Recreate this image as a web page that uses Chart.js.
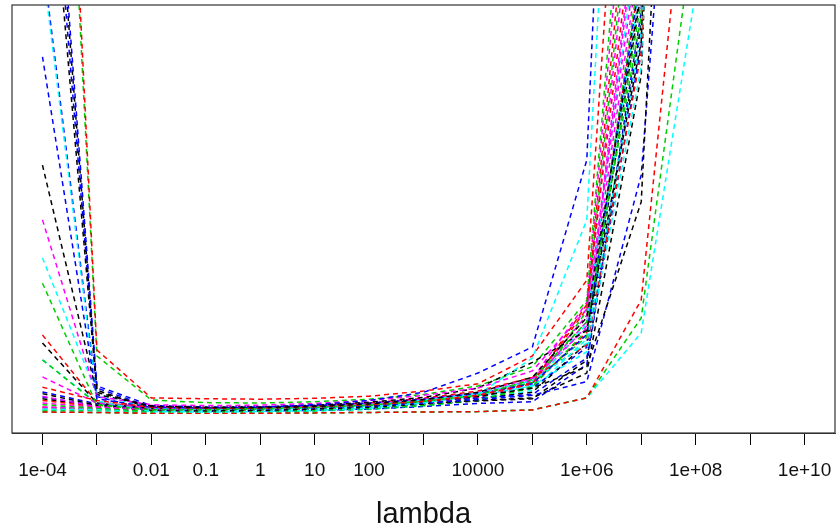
<!DOCTYPE html>
<html>
<head>
<meta charset="utf-8">
<script src="https://cdn.jsdelivr.net/npm/chart.js@4"></script>
<style>
  body{margin:0;background:#fff;}
  #wrap{width:838px;height:532px;}
</style>
</head>
<body>
<div id="wrap"><canvas id="myChart" width="838" height="532"></canvas></div>
<script>
// valores de lambda (eje x, escala log)
var lambda = [1e-4, 1e-3, 1e-2, 1e-1, 1, 10, 100, 1e3, 1e4, 1e5, 1e6, 1e7, 1e8];
// posiciones de las marcas y sus textos (R omite algunos)
var tickExp = [-4,-3,-2,-1,0,1,2,3,4,5,6,7,8,9,10];
var tickLabels = ['1e-04','','0.01','0.1','1','10','100','','10000','','1e+06','','1e+08','','1e+10'];
// paleta de matplot
var colores = ['#000000','#FF0000','#00CD00','#0000FF','#00FFFF','#FF00FF'];

// una curva por columna
var s1  = [156, 9.5, 6.2, 5.9, 5.9, 6.2, 6.8, 7.8, 9.5, 13.0, 27.0, 104, 900];
var s2  = [10.7, 7.6, 6.0, 5.8, 5.8, 6.1, 6.6, 7.4, 8.8, 11.5, 30.0, 134, 1200];
var s3  = [35.0, 6.5, 5.4, 5.5, 5.7, 6.0, 6.5, 7.4, 8.8, 12.5, 26.0, 97.4, 500];
var s4  = [87.9, 8.0, 6.0, 5.8, 6.0, 6.6, 7.6, 9.5, 14.0, 20.1, 63.8, 348, 2000];
var s5  = [109, 7.5, 5.0, 4.9, 5.0, 5.3, 5.8, 7.0, 9.0, 17.5, 49.8, 280, 1500];
var s6  = [49.8, 8.5, 6.6, 6.4, 6.5, 6.9, 7.6, 8.8, 10.5, 14.5, 29.0, 118, 1000];
var s7  = [62.6, 9.0, 6.3, 6.0, 6.1, 6.5, 7.2, 8.3, 10.5, 16.5, 24.0, 91.4, 450];
var s8  = [280, 19.4, 8.2, 8.0, 7.9, 8.1, 8.6, 9.8, 11.5, 18.0, 35.7, 222, 1200];
var s9  = [268, 18.0, 7.7, 7.1, 7.0, 7.3, 7.9, 9.0, 11.0, 15.5, 31.0, 183, 1100];
var s10 = [180, 11.0, 6.4, 6.1, 6.1, 6.4, 7.0, 7.9, 9.2, 11.5, 23.0, 108, 900];
var s11 = [40.9, 9.0, 5.8, 5.6, 5.7, 6.0, 6.6, 7.6, 9.3, 12.2, 21.0, 93.4, 500];
var s12 = [13.1, 7.0, 5.8, 5.7, 5.8, 6.2, 6.8, 7.9, 9.4, 12.8, 24.5, 128, 1000];
var s13 = [21.0, 7.0, 5.7, 5.6, 5.7, 6.0, 6.5, 7.4, 8.6, 10.5, 15.5, 54.0, 300];
var s14 = [22.9, 7.2, 6.0, 5.9, 6.0, 6.4, 7.0, 8.1, 9.8, 13.0, 20.5, 88.8, 450];
var s15 = [17.1, 6.8, 5.6, 5.5, 5.6, 6.0, 6.6, 7.6, 9.2, 11.8, 22.5, 111, 800];
var s16 = [165, 10.5, 6.0, 5.6, 5.6, 5.9, 6.3, 7.0, 7.8, 8.8, 12.0, 60.3, 225];
var s17 = [17.1, 7.0, 5.5, 5.4, 5.5, 5.8, 6.3, 7.2, 8.7, 11.0, 19.0, 85.5, 400];
var s18 = [8.6, 6.1, 5.5, 5.5, 5.6, 6.0, 6.6, 7.6, 9.0, 12.3, 27.5, 145, 1000];
var s19 = [9.2, 6.5, 5.3, 5.2, 5.3, 5.6, 6.0, 6.8, 7.6, 8.2, 14.0, 83.6, 400];
var s20 = [7.6, 6.2, 5.4, 5.3, 5.4, 5.7, 6.2, 7.1, 8.6, 11.8, 29.0, 159, 1100];
var s21 = [6.6, 5.8, 5.0, 5.0, 5.1, 5.3, 5.7, 6.4, 7.7, 10.8, 24.0, 101, 900];
var s22 = [9.6, 6.8, 5.6, 5.4, 5.5, 5.8, 6.4, 7.4, 8.2, 9.0, 17.5, 90.6, 450];
var s23 = [5.6, 5.5, 5.0, 5.0, 5.1, 5.3, 5.7, 6.5, 7.9, 11.2, 25.5, 123, 1000];
var s24 = [6.1, 5.8, 5.2, 5.2, 5.3, 5.6, 6.1, 7.0, 8.5, 12.6, 30.5, 172, 1200];
var s25 = [175, 10.0, 5.7, 5.4, 5.4, 5.6, 6.0, 6.7, 7.5, 8.0, 17.0, 95.7, 500];
var s26 = [4.9, 4.8, 4.6, 4.6, 4.6, 4.7, 4.8, 4.9, 5.0, 5.4, 8.2, 31.1, 155];
var s27 = [4.9, 4.8, 4.6, 4.6, 4.6, 4.7, 4.8, 4.9, 5.0, 5.4, 8.2, 26.9, 121];
var s28 = [111, 8.5, 5.3, 5.1, 5.1, 5.3, 5.6, 6.2, 6.9, 7.3, 16.0, 98.5, 500];
var s29 = [4.9, 4.8, 4.6, 4.6, 4.6, 4.7, 4.8, 4.9, 5.0, 5.4, 8.2, 23.4, 103];
var s30 = [7.0, 6.0, 5.4, 5.3, 5.4, 5.7, 6.2, 7.2, 8.8, 12.0, 26.0, 114, 1000];
var s31 = [8.0, 6.3, 5.4, 5.3, 5.4, 5.7, 6.2, 7.0, 8.0, 9.5, 21.0, 103, 900];
var s32 = [6.0, 5.6, 5.1, 5.0, 5.1, 5.4, 5.9, 6.8, 8.3, 11.0, 23.5, 109, 1000];
var s33 = [5.4, 5.4, 4.9, 4.9, 5.0, 5.2, 5.6, 6.4, 7.8, 10.5, 28.5, 151, 1200];
var s34 = [8.4, 6.4, 5.4, 5.3, 5.4, 5.7, 6.3, 7.3, 8.6, 10.5, 20.0, 94.6, 450];
var s35 = [5.2, 5.2, 4.8, 4.8, 4.9, 5.1, 5.5, 6.3, 7.6, 10.0, 22.0, 106, 900];
var s36 = [5.8, 5.6, 5.1, 5.1, 5.2, 5.5, 6.0, 6.9, 8.3, 11.5, 25.0, 131, 1100];

var series = [s1,s2,s3,s4,s5,s6,s7,s8,s9,s10,s11,s12,s13,s14,s15,s16,s17,s18,
              s19,s20,s21,s22,s23,s24,s25,s26,s27,s28,s29,s30,s31,s32,s33,s34,s35,s36];

var datasets = series.map(function(s, i){
    return {
        data: s,
        borderColor: colores[i % 6],
        borderWidth: 1.5,
        borderDash: [5, 4],
        pointRadius: 0,
        fill: false,
        tension: 0
    };
});

// caja alrededor del area del grafico (box() de R)
var caja = {
    id: 'caja',
    afterDraw: function(chart){
        var a = chart.chartArea, ctx = chart.ctx;
        ctx.save();
        ctx.strokeStyle = '#333';
        ctx.lineWidth = 1.2;
        ctx.strokeRect(a.left, a.top, a.right - a.left, a.bottom - a.top);
        ctx.restore();
    }
};

var ctx = document.getElementById('myChart').getContext('2d');
var myChart = new Chart(ctx, {
    type: 'line',
    data: { labels: lambda, datasets: datasets },
    options: {
        responsive: false,
        animation: false,
        layout: { padding: { left: 12, right: 3, top: 5, bottom: 0 } },
        plugins: { legend: { display: false }, tooltip: { enabled: false } },
        scales: {
            x: {
                type: 'logarithmic',
                min: Math.pow(10, -4.56),
                max: Math.pow(10, 10.56),
                afterBuildTicks: function(scale){
                    scale.ticks = tickExp.map(function(e){ return { value: Math.pow(10, e) }; });
                },
                afterFit: function(scale){
                    scale.height = 99;
                    // que las etiquetas de los extremos no encojan el area
                    scale.paddingLeft = 0;
                    scale.paddingRight = 0;
                },
                grid: { drawOnChartArea: false, drawTicks: true, tickLength: 12, color: '#000', lineWidth: 1 },
                border: { display: true, color: '#333', width: 1 },
                ticks: {
                    autoSkip: false,
                    maxRotation: 0,
                    padding: 14,
                    color: '#111',
                    font: { family: 'Liberation Sans', size: 19 },
                    callback: function(v, i){ return tickLabels[i]; }
                },
                title: {
                    display: true,
                    text: 'lambda',
                    color: '#111',
                    font: { family: 'Liberation Sans', size: 29 },
                    padding: { top: 2, bottom: 0 }
                }
            },
            y: {
                display: false,
                min: 0,
                max: 100
            }
        }
    },
    plugins: [caja]
});
</script>
</body>
</html>
